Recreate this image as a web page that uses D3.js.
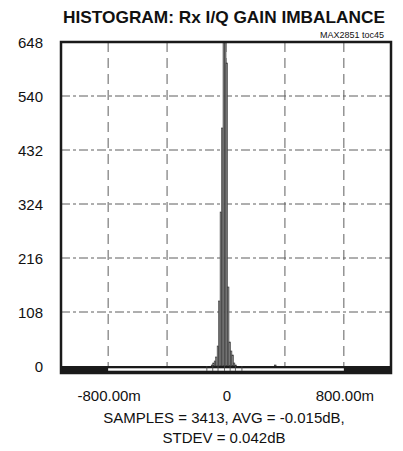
<!DOCTYPE html>
<html>
<head>
<meta charset="utf-8">
<script src="https://cdn.jsdelivr.net/npm/d3@7"></script>
<style>
  body { margin: 0; background: #fff; }
  text { font-family: "Liberation Sans", Arial, sans-serif; fill: #111; }
</style>
</head>
<body>
<div id="chart"></div>
<script>

// bins are 10m wide (start of bin, in m)
var binStart = [-100, -90, -80, -70, -60, -50, -40, -30, -20, -10, 0, 10, 20, 30, 40, 50, 60, 330];
var binCount = [2, 6, 10, 18, 40, 130, 308, 476, 780, 790, 606, 158, 48, 30, 22, 6, 2, 2];
var binWidth = 10;

var yTicks = [0, 108, 216, 324, 432, 540, 648];
var xGrid = [-800, -400, 0, 400, 800];
var xLabels = [{v: -800, t: "-800.00m"}, {v: 0, t: "0"}, {v: 800, t: "800.00m"}];
var baseTicks = [-130, -90, -54, -10, 28, 64, 108];

var W = 403, H = 451;
var plot = {left: 61, right: 391, top: 42, bottom: 366};

var svg = d3.select("#chart").append("svg")
    .attr("width", W)
    .attr("height", H);

var x = d3.scaleLinear().domain([-1120, 1120]).range([plot.left, plot.right]);
var y = d3.scaleLinear().domain([0, 648]).range([plot.bottom, plot.top]);

svg.append("clipPath").attr("id", "clip")
  .append("rect")
    .attr("x", plot.left).attr("y", plot.top)
    .attr("width", plot.right - plot.left)
    .attr("height", plot.bottom - plot.top);

// grid
svg.append("g").selectAll("line.h")
    .data(yTicks.slice(1, -1))
  .enter().append("line")
    .attr("x1", plot.left).attr("x2", plot.right)
    .attr("y1", function(d) { return y(d); })
    .attr("y2", function(d) { return y(d); })
    .attr("stroke", "#5e5e5e")
    .attr("stroke-width", 1)
    .attr("stroke-dasharray", "9,3,3,3");

svg.append("g").selectAll("line.v")
    .data(xGrid)
  .enter().append("line")
    .attr("x1", function(d) { return x(d); })
    .attr("x2", function(d) { return x(d); })
    .attr("y1", plot.top).attr("y2", plot.bottom)
    .attr("stroke", "#5e5e5e")
    .attr("stroke-width", 1)
    .attr("stroke-dasharray", "10,6");

// histogram bars
svg.append("g")
    .attr("clip-path", "url(#clip)")
  .selectAll("rect")
    .data(binStart)
  .enter().append("rect")
    .attr("x", function(d) { return x(d); })
    .attr("width", function(d) { return x(d + binWidth) - x(d); })
    .attr("y", function(d, i) { return y(Math.min(binCount[i], 700)); })
    .attr("height", function(d, i) { return y(0) - y(Math.min(binCount[i], 700)); })
    .attr("fill", "#8e8e8e")
    .attr("stroke", "#333")
    .attr("stroke-width", 0.6);

// bottom band under the axis
svg.append("rect")
    .attr("x", plot.left).attr("y", plot.bottom)
    .attr("width", plot.right - plot.left).attr("height", 8)
    .attr("fill", "#1a1a1a");
svg.append("rect")
    .attr("x", x(-800)).attr("y", plot.bottom + 2.3)
    .attr("width", x(800) - x(-800)).attr("height", 2.4)
    .attr("fill", "#fff");

svg.append("g").selectAll("line")
    .data(baseTicks)
  .enter().append("line")
    .attr("x1", function(d) { return x(d); })
    .attr("x2", function(d) { return x(d); })
    .attr("y1", plot.bottom).attr("y2", plot.bottom + 5)
    .attr("stroke", "#444")
    .attr("stroke-width", 0.8);

// frame
svg.append("rect")
    .attr("x", plot.left).attr("y", plot.top)
    .attr("width", plot.right - plot.left)
    .attr("height", plot.bottom + 7 - plot.top)
    .attr("fill", "none")
    .attr("stroke", "#1a1a1a")
    .attr("stroke-width", 2.5);

// y labels
svg.append("g").selectAll("text")
    .data(yTicks)
  .enter().append("text")
    .attr("x", 43)
    .attr("y", function(d) { return y(d) + 5.5; })
    .attr("text-anchor", "end")
    .style("font-size", "15px")
    .text(function(d) { return d; });

// x labels
svg.append("g").selectAll("text")
    .data(xLabels)
  .enter().append("text")
    .attr("x", function(d) { return x(d.v) + 1; })
    .attr("y", 401)
    .attr("text-anchor", "middle")
    .style("font-size", "15px")
    .text(function(d) { return d.t; });

svg.append("text")
    .attr("x", 224).attr("y", 423)
    .attr("text-anchor", "middle")
    .style("font-size", "15px")
    .text("SAMPLES = 3413, AVG = -0.015dB,");

svg.append("text")
    .attr("x", 224).attr("y", 443)
    .attr("text-anchor", "middle")
    .style("font-size", "15px")
    .text("STDEV = 0.042dB");

// titles
svg.append("text")
    .attr("x", 224).attr("y", 23)
    .attr("text-anchor", "middle")
    .attr("textLength", 322)
    .attr("lengthAdjust", "spacingAndGlyphs")
    .style("font-size", "17px")
    .style("font-weight", "bold")
    .text("HISTOGRAM: Rx I/Q GAIN IMBALANCE");

svg.append("text")
    .attr("x", 384).attr("y", 38)
    .attr("text-anchor", "end")
    .style("font-size", "9px")
    .text("MAX2851 toc45");

</script>
</body>
</html>
